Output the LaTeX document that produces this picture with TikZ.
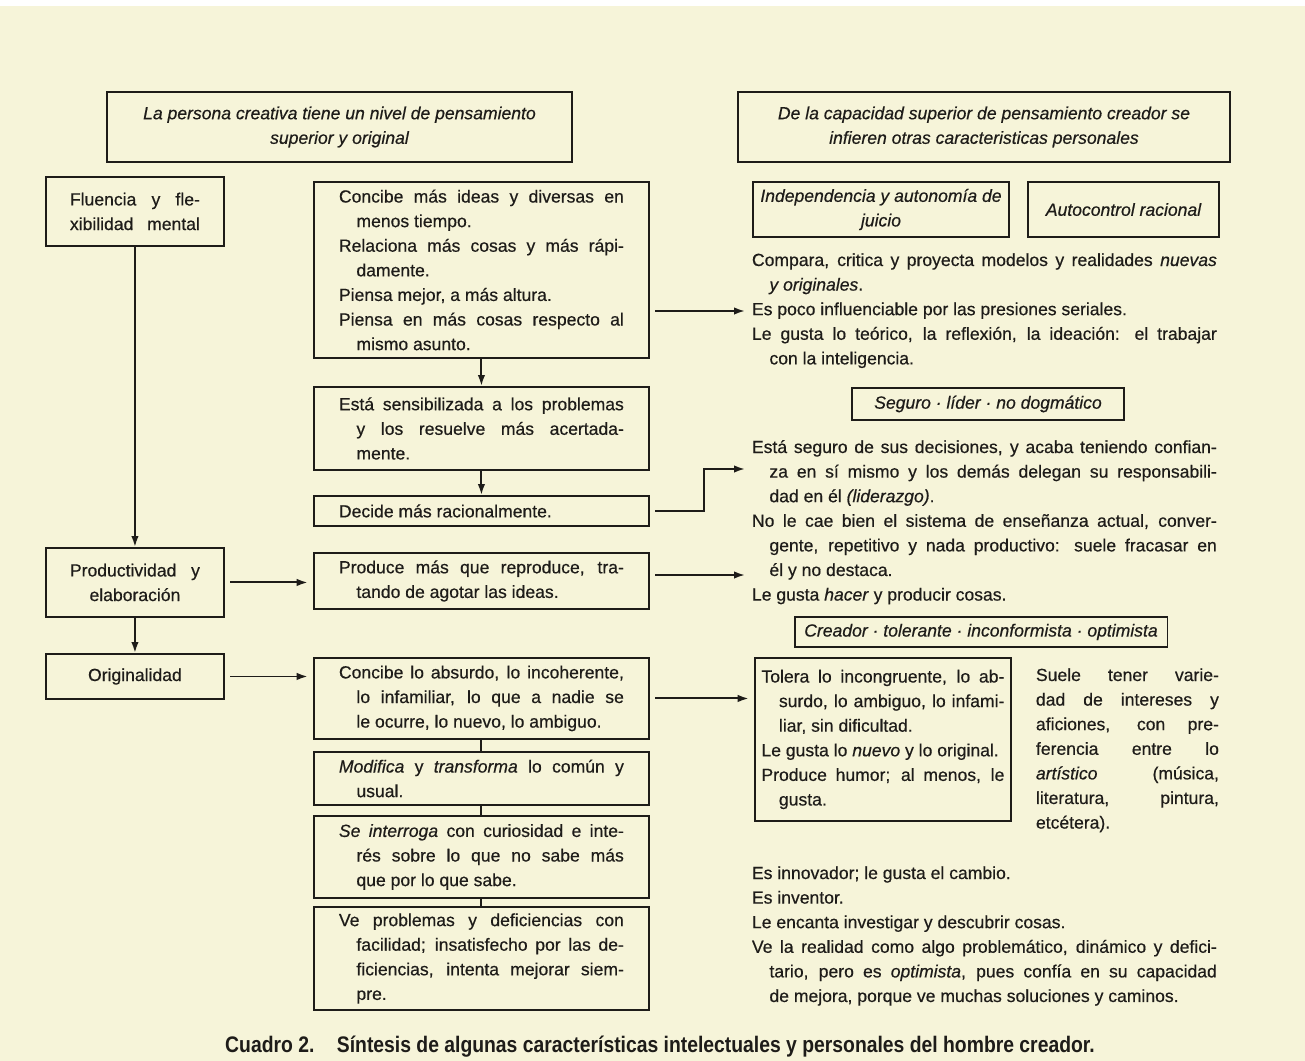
\documentclass[tikz,border=0pt]{standalone}
\usepackage{fontspec}
\setmainfont{Liberation Sans}[FakeBold=0.5]
\newfontfamily\capfont[FakeStretch=0.86]{Liberation Sans}
\usetikzlibrary{arrows.meta}
\definecolor{paper}{RGB}{246,244,217}
\definecolor{ink}{RGB}{30,28,25}
\hyphenpenalty=10000
\tolerance=9999
\setlength{\parskip}{0pt}
\newcommand{\renglon}[1]{\hangindent=0.35cm\hangafter=1\noindent#1\par}

\begin{document}
\begin{tikzpicture}[x=0.02cm, y=-0.02cm, color=ink, line width=1.1pt,
  >={Latex[length=2.2mm,width=1.5mm]},
  texto/.style={font=\fontsize{10}{14}\selectfont},
  caja/.style={texto, draw, anchor=north west, text width=5.7cm, inner xsep=0.5cm, inner ysep=0pt, align=justify},
  lateral/.style={texto, draw, anchor=north west, text width=2.6cm, inner xsep=0.48cm, inner ysep=0pt, align=center},
  rotulo/.style={draw, font=\fontsize{10}{14}\selectfont\itshape, align=center, inner sep=0pt},
  bloque/.style={texto, anchor=base west, inner sep=0pt, text width=9.3cm, align=justify},
  flecha/.style={->},
  hueco/.style={shorten <=3pt, shorten >=3pt}]
\fill[paper] (0,0) rectangle (1305,1061);
\fill[white] (0,0) rectangle (1305,6);
\useasboundingbox (0,0) rectangle (1305,1061);

% headings
\node[rotulo, minimum width=9.3cm, minimum height=1.4cm] (persona) at (339.5,127)
  {La persona creativa tiene un nivel de pensamiento\\superior y original};
\node[rotulo, minimum width=9.84cm, minimum height=1.4cm] (capacidad) at (984,127)
  {De la capacidad superior de pensamiento creador se\\infieren otras caracteristicas personales};

% left column
\node[lateral, minimum height=1.38cm] (fluencia) at (45,176)
  {\hbox to 2.6cm{Fluencia\hfill y\hfill fle-}\\\hbox to 2.6cm{xibilidad\hfill mental}};
\node[lateral, minimum height=1.38cm] (productividad) at (45,547)
  {\hbox to 2.6cm{Productividad\hfill y}\\elaboración};
\node[lateral, minimum height=0.9cm] (originalidad) at (45,653) {Originalidad};

% middle column
\node[caja, minimum height=3.52cm] (concibe) at (313,181) {%
\renglon{Concibe más ideas y diversas en\linebreak menos tiempo.}%
\renglon{Relaciona más cosas y más rápi-\linebreak damente.}%
\renglon{Piensa mejor, a más altura.}%
\renglon{Piensa en más cosas respecto al\linebreak mismo asunto.}};
\node[caja, minimum height=1.66cm] (sensible) at (313,386) {%
\renglon{Está sensibilizada a los problemas\linebreak y los resuelve más acertada-\linebreak mente.}};
\node[caja, minimum height=0.6cm] (decide) at (313,495) {\renglon{Decide más racionalmente.}};
\node[caja, minimum height=1.12cm] (produce) at (313,552) {%
\renglon{Produce más que reproduce, tra-\linebreak tando de agotar las ideas.}};
\node[caja, minimum height=1.62cm] (absurdo) at (313,657) {%
\renglon{Concibe lo absurdo, lo incoherente,\linebreak lo infamiliar, lo que a nadie se\linebreak le ocurre, lo nuevo, lo ambiguo.}};
\node[caja, minimum height=1.06cm] (modifica) at (313,751) {%
\renglon{\emph{Modifica} y \emph{transforma} lo común y\linebreak usual.}};
\node[caja, minimum height=1.64cm] (interroga) at (313,815) {%
\renglon{\emph{Se interroga} con curiosidad e inte-\linebreak rés sobre lo que no sabe más\linebreak que por lo que sabe.}};
\node[caja, minimum height=2.06cm] (mejora) at (313,906) {%
\renglon{Ve problemas y deficiencias con\linebreak facilidad; insatisfecho por las de-\linebreak ficiencias, intenta mejorar siem-\linebreak pre.}};

% right column
\node[rotulo, minimum width=5.12cm, minimum height=1.1cm] (independencia) at (881,209.5)
  {Independencia y autonomía de\\juicio};
\node[rotulo, minimum width=3.82cm, minimum height=1.1cm] (autocontrol) at (1123.5,209.5)
  {Autocontrol racional};
\node[bloque] (juicio) at (751,266) {%
\renglon{Compara, critica y proyecta modelos y realidades \emph{nuevas}\linebreak \emph{y originales}.}%
\renglon{Es poco influenciable por las presiones seriales.}%
\renglon{Le gusta lo teórico, la reflexión, la ideación: el trabajar\linebreak con la inteligencia.}};
\node[rotulo, minimum width=5.44cm, minimum height=0.64cm] (seguro) at (988,404)
  {Seguro · líder · no dogmático};
\node[bloque] (lider) at (751,453) {%
\renglon{Está seguro de sus decisiones, y acaba teniendo confian-\linebreak za en sí mismo y los demás delegan su responsabili-\linebreak dad en él \emph{(liderazgo)}.}%
\renglon{No le cae bien el sistema de enseñanza actual, conver-\linebreak gente, repetitivo y nada productivo: suele fracasar en\linebreak él y no destaca.}%
\renglon{Le gusta \emph{hacer} y producir cosas.}};
\node[rotulo, minimum width=7.46cm, minimum height=0.6cm] (creador) at (981,632)
  {Creador · tolerante · inconformista · optimista};
\node[caja, text width=4.86cm, inner xsep=0.13cm, minimum height=3.26cm] (tolera) at (754,657) {%
\renglon{Tolera lo incongruente, lo ab-\linebreak surdo, lo ambiguo, lo infami-\linebreak liar, sin dificultad.}%
\renglon{Le gusta lo \emph{nuevo} y lo original.}%
\renglon{Produce humor; al menos, le\linebreak gusta.}};
\node[bloque, text width=3.66cm] (aficiones) at (1035,681) {\noindent Suele tener varie-\linebreak dad de intereses y\linebreak aficiones, con pre-\linebreak ferencia entre lo\linebreak \emph{artístico} (música,\linebreak literatura, pintura,\linebreak etcétera).};
\node[bloque] (innovador) at (751,879) {%
\renglon{Es innovador; le gusta el cambio.}%
\renglon{Es inventor.}%
\renglon{Le encanta investigar y descubrir cosas.}%
\renglon{Ve la realidad como algo problemático, dinámico y defici-\linebreak tario, pero es \emph{optimista}, pues confía en su capacidad\linebreak de mejora, porque ve muchas soluciones y caminos.}};

% caption
\node[font={\capfont\bfseries\fontsize{12.8}{15}\selectfont}] (pie) at (660,1047)
  {Cuadro 2.\quad Síntesis de algunas características intelectuales y personales del hombre creador.};

% connectors
\coordinate (llegauno) at (745,311);
\coordinate (llegados) at (745,469);
\coordinate (llegatres) at (745,575);
\draw[flecha] (fluencia) -- (productividad);
\draw[flecha] (productividad) -- (originalidad);
\draw[flecha, hueco] (productividad.east) -- (productividad.east -| produce.west);
\draw[flecha, hueco] (originalidad.east) -- (originalidad.east -| absurdo.west);
\draw[flecha] (concibe) -- (sensible);
\draw[flecha] (sensible) -- (decide);
\draw (absurdo) -- (modifica);
\draw (modifica) -- (interroga);
\draw (interroga) -- (mejora);
\draw[flecha, shorten <=3pt] (concibe.east |- llegauno) -- (llegauno);
\draw[flecha, shorten <=3pt] (decide.east) -- ++(54,0) |- (llegados);
\draw[flecha, shorten <=3pt] (produce.east |- llegatres) -- (llegatres);
\draw[flecha, hueco] (absurdo.east) -- (absurdo.east -| tolera.west);
\end{tikzpicture}
\end{document}
